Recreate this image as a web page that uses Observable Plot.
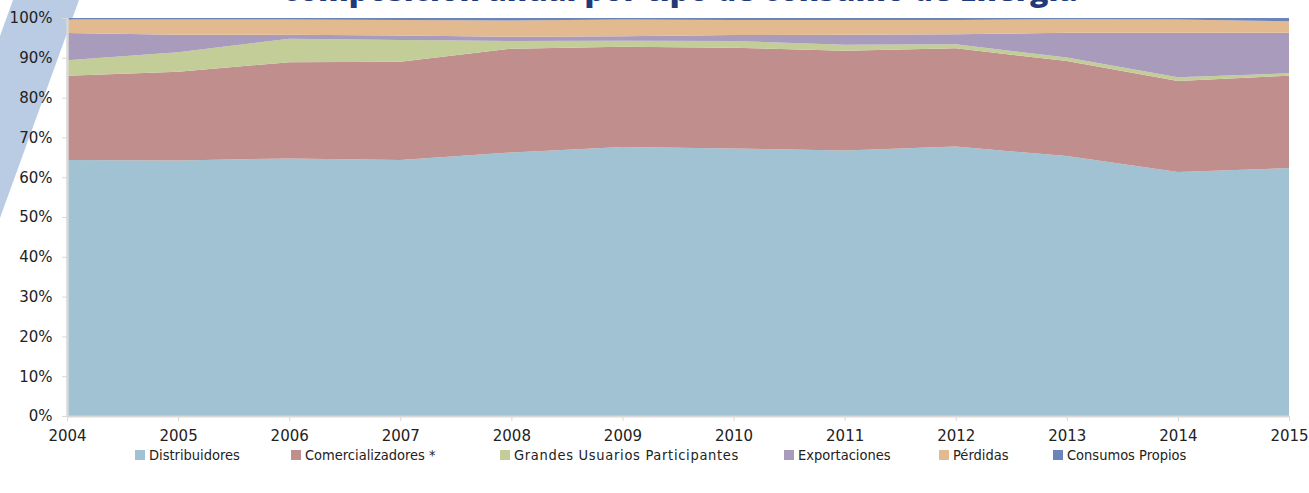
<!DOCTYPE html>
<html>
<head>
<meta charset="utf-8">
<script src="https://cdn.jsdelivr.net/npm/d3@7"></script>
<script src="https://cdn.jsdelivr.net/npm/@observablehq/plot@0.6"></script>
<style>
  html, body { margin: 0; padding: 0; background: #fff; width: 1309px; height: 493px; overflow: hidden; }
  #wrap { position: relative; width: 1309px; height: 493px; }
  #deco { position: absolute; left: 0; top: 0; z-index: 0; }
  #chart { position: absolute; left: 0; top: 0; z-index: 1; }
  #title { position: absolute; left: 0; width: 1360px; top: -27.5px; text-align: center; z-index: 2;
           font-family: "Open Sans", sans-serif; font-weight: 800; font-size: 30.5px; line-height: 32px; color: #1F3A7A; white-space: nowrap; }
  .lg { position: absolute; top: 447px; display: flex; align-items: center; z-index: 2;
        font-family: "DejaVu Sans Condensed", sans-serif; font-size: 14.5px; color: #222; white-space: nowrap; }
  .lg i { display: inline-block; width: 10px; height: 10px; margin-right: 4px; }
</style>
</head>
<body>
<div id="wrap">
  <svg id="deco" width="90" height="230"><polygon points="13,0 79,0 0,218 0,36" fill="#B9CCE4"/></svg>
  <div id="title">composición anual por tipo de consumo de Energía</div>
  <div id="chart"></div>
  <div id="legend"></div>
</div>
<script>
const years = [2004, 2005, 2006, 2007, 2008, 2009, 2010, 2011, 2012, 2013, 2014, 2015];
const seriesNames = ["Distribuidores", "Comercializadores *", "Grandes Usuarios Participantes", "Exportaciones", "Pérdidas", "Consumos Propios"];
const seriesColors = ["#A0C2D2", "#C08E8C", "#C2CD97", "#A99BBB", "#E3B98F", "#6B85BA"];

const distribuidores    = [64.3, 64.2, 64.7, 64.3, 66.2, 67.6, 67.2, 66.7, 67.7, 65.3, 61.3, 62.3];
const comercializadores = [21.2, 22.3, 24.2, 24.7, 26.1, 25.2, 25.3, 25.1, 24.7, 23.9, 22.9, 23.2];
const grandesUsuarios   = [3.9, 4.9, 5.9, 5.5, 1.9, 1.5, 1.7, 1.5, 1.0, 0.9, 0.9, 0.6];
const exportaciones     = [6.8, 4.4, 1.0, 1.1, 1.1, 1.1, 1.5, 2.5, 2.5, 6.2, 11.2, 10.2];
const perdidas          = [3.4, 3.8, 3.8, 3.9, 4.1, 4.2, 3.8, 3.7, 3.6, 3.4, 3.3, 2.9];
const consumosPropios   = [0.4, 0.4, 0.4, 0.5, 0.6, 0.4, 0.5, 0.5, 0.5, 0.3, 0.4, 0.8];

const seriesValues = [distribuidores, comercializadores, grandesUsuarios, exportaciones, perdidas, consumosPropios];
const yTicks = [0, 10, 20, 30, 40, 50, 60, 70, 80, 90, 100];

const data = [];
seriesNames.forEach((name, i) => {
  years.forEach((yr, j) => data.push({year: yr, serie: name, value: seriesValues[i][j]}));
});

const chart = Plot.plot({
  width: 1309,
  height: 450,
  marginTop: 18,
  marginBottom: 34,
  marginLeft: 67,
  marginRight: 20,
  style: {fontFamily: "DejaVu Sans, sans-serif", fontSize: "15px", color: "#222", background: "transparent"},
  x: {domain: [2004, 2015]},
  y: {domain: [0, 100]},
  color: {domain: seriesNames, range: seriesColors},
  marks: [
    Plot.areaY(data, Plot.stackY({x: "year", y: "value", z: "serie", fill: "serie", order: seriesNames})),
    Plot.ruleX([2004], {stroke: "#d9d9d9", strokeWidth: 2.5}),
    Plot.ruleY([0], {stroke: "#d9d9d9", strokeWidth: 2}),
    Plot.axisY({ticks: yTicks, tickFormat: d => d + "%", tickSize: 5, tickPadding: 10, stroke: "#d9d9d9", fill: "#222", label: null}),
    Plot.axisX({ticks: years, tickFormat: "d", tickSize: 5, tickPadding: 9, stroke: "#d9d9d9", fill: "#222", label: null})
  ]
});
document.getElementById("chart").appendChild(chart);

const legendX = [135, 291, 500, 784, 939, 1053];
const legend = document.getElementById("legend");
seriesNames.forEach((name, i) => {
  const d = document.createElement("div");
  d.className = "lg";
  d.style.left = legendX[i] + "px";
  if (i === 2) d.style.letterSpacing = "0.7px";
  d.innerHTML = `<i style="background:${seriesColors[i]}"></i><span>${name}</span>`;
  legend.appendChild(d);
});
</script>
</body>
</html>
